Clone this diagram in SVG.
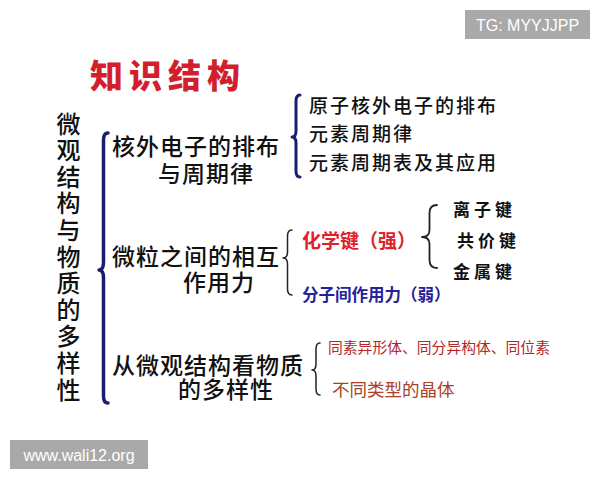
<svg xmlns="http://www.w3.org/2000/svg" width="600" height="480" viewBox="0 0 600 480">
<style>
text{font-family:"Noto Sans CJK SC","Noto Sans",sans-serif;dominant-baseline:central}
.k{fill:#111;font-size:23px;letter-spacing:1px;font-weight:500}
.s{fill:#111;font-size:19px;letter-spacing:2px;font-weight:500}
.b{fill:none;stroke-linecap:round;stroke-linejoin:round}
.navy{stroke:#1c1c72}
.blk{stroke:#222}
.wm{fill:#fff;font-family:"Liberation Sans",Arial,sans-serif;font-size:16px}
</style>
<rect width="600" height="480" fill="#fff"/>
<g id="title"><text x="90" y="74" style="font-size:33px;font-weight:900;fill:#d21e2d;letter-spacing:6px">知识结构</text></g>
<g id="tg"><rect x="465" y="10" width="125" height="29" fill="#a9a9a9"/><text class="wm" x="527.5" y="25" text-anchor="middle">TG: MYYJJPP</text></g>
<g id="wali"><rect x="10" y="440" width="138" height="29" fill="#a9a9a9"/><text class="wm" x="79" y="455" text-anchor="middle">www.wali12.org</text></g>
<g id="root"><text style="font-size:24px;fill:#111;font-weight:500" text-anchor="middle"><tspan x="68.5" y="121.5">微</tspan><tspan x="68.5" y="148.1">观</tspan><tspan x="68.5" y="174.7">结</tspan><tspan x="68.5" y="201.3">构</tspan><tspan x="68.5" y="227.9">与</tspan><tspan x="68.5" y="254.5">物</tspan><tspan x="68.5" y="281.1">质</tspan><tspan x="68.5" y="307.7">的</tspan><tspan x="68.5" y="334.3">多</tspan><tspan x="68.5" y="360.9">样</tspan><tspan x="68.5" y="387.5">性</tspan></text></g>
<g id="n1"><text class="k" x="112" y="145">核外电子的排布</text><text class="k" x="158" y="172">与周期律</text></g>
<g id="n1a"><text class="s" x="309" y="104">原子核外电子的排布</text><text class="s" x="309" y="132">元素周期律</text><text class="s" x="309" y="161">元素周期表及其应用</text></g>
<g id="n2"><text class="k" x="112" y="255">微粒之间的相互</text><text class="k" x="183" y="281">作用力</text></g>
<g id="n2a"><text x="302" y="239" style="font-size:19px;font-weight:700;fill:#e0202a">化学键（强）</text></g>
<g id="n2a1"><text x="453" y="208" style="font-size:17px;font-weight:700;fill:#111;letter-spacing:4px">离子键</text><text x="457" y="239" style="font-size:17px;font-weight:700;fill:#111;letter-spacing:4px">共价键</text><text x="453" y="270" style="font-size:17px;font-weight:700;fill:#111;letter-spacing:4px">金属键</text></g>
<g id="n2b"><text x="302" y="294" style="font-size:16.5px;font-weight:700;fill:#22229a">分子间作用力（弱）</text></g>
<g id="n3"><text class="k" x="112" y="364">从微观结构看物质</text><text class="k" x="178" y="388">的多样性</text></g>
<g id="n3a"><text x="328" y="346" style="font-size:14.8px;fill:#b3262a">同素异形体、同分异构体、同位素</text><text x="332" y="388" style="font-size:17.5px;fill:#a8402a">不同类型的晶体</text></g>
<g id="connectors">
<path class="b navy" stroke-width="3.5" d="M108,133 Q103.5,133 103.5,140 L103.5,262 Q103.5,270 99,270 Q103.5,270 103.5,278 L103.5,396 Q103.5,403 108,403"/>
<path class="b navy" stroke-width="3" d="M300,95 Q296,95 296,101 L296,131 Q296,137 292,137 Q296,137 296,143 L296,171 Q296,177 300,177"/>
<path class="b blk" stroke-width="1.5" d="M292,230 Q287.5,230 287.5,236 L287.5,252 Q287.5,258 283,258 Q287.5,258 287.5,264 L287.5,289 Q287.5,295 292,295"/>
<path class="b blk" stroke-width="1.8" d="M437,205 Q429.5,205 429.5,213 L429.5,230 Q429.5,237 422,237 Q429.5,237 429.5,244 L429.5,260 Q429.5,268 437,268"/>
<path class="b blk" stroke-width="1.5" d="M320,343 Q316,343 316,349 L316,364 Q316,370 312,370 Q316,370 316,376 L316,389 Q316,395 320,395"/>
</g>
</svg>
